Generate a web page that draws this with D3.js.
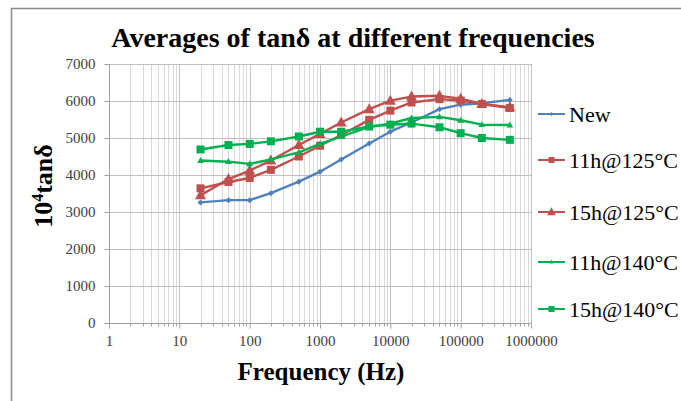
<!DOCTYPE html>
<html><head><meta charset="utf-8">
<script src="https://cdn.jsdelivr.net/npm/d3@7"></script>
<style>body{margin:0;background:#fff}svg{display:block}svg text{font-family:"Liberation Serif","Times New Roman",Times,serif !important}</style>
</head><body><svg id="c" width="681" height="401"></svg>
<script>
const frequencies = [20, 50, 100, 200, 500, 1000, 2000, 5000, 10000, 20000, 50000, 100000, 200000, 500000];
const seriesNames = ["New", "11h@125°C", "15h@125°C", "11h@140°C", "15h@140°C"];
const newVals   = [3260, 3320, 3320, 3510, 3820, 4090, 4420, 4850, 5170, 5420, 5780, 5900, 5940, 6030];
const h11c125   = [3640, 3810, 3920, 4140, 4500, 4790, 5080, 5490, 5740, 5960, 6050, 6010, 5920, 5810];
const h15c125   = [3450, 3890, 4120, 4390, 4810, 5110, 5420, 5780, 6010, 6120, 6140, 6060, 5920, 5830];
const h11c140   = [4390, 4360, 4300, 4420, 4610, 4840, 5040, 5300, 5390, 5540, 5570, 5480, 5360, 5350];
const h15c140   = [4690, 4810, 4840, 4910, 5040, 5170, 5170, 5310, 5360, 5390, 5290, 5130, 5000, 4950];
const yTicks = [0, 1000, 2000, 3000, 4000, 5000, 6000, 7000];
const xTickLabels = ["1", "10", "100", "1000", "10000", "100000", "1000000"];

const FONT = '"Liberation Serif","Times New Roman",Times,serif';
const svg = d3.select("#c");
const x = d3.scaleLog().domain([1, 1e6]).range([109, 531]);
const y = d3.scaleLinear().domain([0, 7000]).range([323, 64]);

// frame
svg.append("path").attr("d","M11.5,401 V8.5 H681").attr("fill","none").attr("stroke","#8c8c8c").attr("stroke-width",1.5);

// minor vertical grid
const minors = [];
for (let d = 1; d < 1e6; d *= 10) for (let m = 2; m <= 9; m++) minors.push(d * m);
svg.append("g").selectAll("line").data(minors).join("line")
  .attr("x1", d => Math.round(x(d)) + 0.5).attr("x2", d => Math.round(x(d)) + 0.5)
  .attr("y1", 64).attr("y2", 323).attr("stroke", "#d9d9d9").attr("stroke-width", 1);
// major vertical grid
const majors = xTickLabels.map(Number);
svg.append("g").selectAll("line").data(majors.slice(1)).join("line")
  .attr("x1", d => Math.round(x(d)) + 0.5).attr("x2", d => Math.round(x(d)) + 0.5)
  .attr("y1", 64).attr("y2", 323).attr("stroke", "#c0c0c0").attr("stroke-width", 1);
// horizontal grid
svg.append("g").selectAll("line").data(yTicks.slice(1)).join("line")
  .attr("x1", 109).attr("x2", 531)
  .attr("y1", d => Math.round(y(d)) + 0.5).attr("y2", d => Math.round(y(d)) + 0.5)
  .attr("stroke", "#c0c0c0").attr("stroke-width", 1);

// axes
const yAxis = d3.axisLeft(y).tickValues(yTicks).tickSize(5).tickPadding(9).tickFormat(d3.format("d"));
const gy = svg.append("g").attr("transform", "translate(109.5,0)").call(yAxis).attr("font-family", FONT);
gy.selectAll("text").attr("font-size", 15).attr("fill", "#404040");
gy.selectAll("line,path").attr("stroke", "#a0a0a0");
gy.select(".domain").attr("d", "M0,64V323.5");

const xAxis = d3.axisBottom(x).tickValues(majors).tickSize(5).tickPadding(7).tickFormat((d, i) => xTickLabels[i]);
const gx = svg.append("g").attr("transform", "translate(0,323.5)").call(xAxis).attr("font-family", FONT);
gx.selectAll("text").attr("font-size", 15).attr("fill", "#404040");
gx.selectAll("line,path").attr("stroke", "#a0a0a0");
gx.select(".domain").attr("d", "M109,0H531");
gx.append("g").selectAll("line").data(minors).join("line")
  .attr("x1", d => Math.round(x(d)) + 0.5).attr("x2", d => Math.round(x(d)) + 0.5)
  .attr("y1", 0).attr("y2", 3).attr("stroke", "#a0a0a0");

// series
const colors = ["#4f81bd", "#c0504d", "#c0504d", "#00b050", "#00b050"];
const shapes = ["diamond", "square", "triangle", "triangle", "square"];
const sizes = [6, 8, 10, 6, 8];
const allVals = [newVals, h11c125, h15c125, h11c140, h15c140];
const line = d3.line().x(d => x(d[0])).y(d => y(d[1]));
function marker(g, shape, s, color) {
  if (shape === "diamond") g.append("path").attr("d", `M0,${-s/2}L${s/2},0L0,${s/2}L${-s/2},0Z`).attr("fill", color);
  else if (shape === "square") g.append("rect").attr("x", -s/2).attr("y", -s/2).attr("width", s).attr("height", s).attr("fill", color);
  else g.append("path").attr("d", `M0,${-s*0.6}L${s*0.55},${s*0.4}L${-s*0.55},${s*0.4}Z`).attr("fill", color);
}
allVals.forEach((vals, si) => {
  const pts = frequencies.map((f, i) => [f, vals[i]]);
  svg.append("path").datum(pts).attr("d", line).attr("fill", "none")
    .attr("stroke", colors[si]).attr("stroke-width", 2.4).attr("stroke-linejoin", "round");
  pts.forEach(p => {
    const g = svg.append("g").attr("transform", `translate(${x(p[0])},${y(p[1])})`);
    marker(g, shapes[si], sizes[si], colors[si]);
  });
});

// legend
const legY = [114, 160, 212, 262, 309];
const legSizes = [4, 6, 8, 4, 6];
seriesNames.forEach((n, i) => {
  const g = svg.append("g").attr("transform", `translate(538,${legY[i]})`);
  g.append("line").attr("x1", 0).attr("x2", 27).attr("stroke", colors[i]).attr("stroke-width", 2);
  const m = g.append("g").attr("transform", "translate(13.5,0)");
  marker(m, shapes[i], legSizes[i], colors[i]);
  g.append("text").attr("x", 31).attr("y", 0).attr("dy", "0.35em").attr("font-family", FONT)
    .attr("font-size", 22).attr("fill", "#000").text(n);
});

// title & axis labels
svg.append("text").attr("x", 353).attr("y", 47).attr("text-anchor", "middle").attr("font-family", FONT)
  .attr("font-size", 28).attr("font-weight", "bold").text("Averages of tanδ at different frequencies");
svg.append("text").attr("x", 321).attr("y", 380).attr("text-anchor", "middle").attr("font-family", FONT)
  .attr("font-size", 25).attr("font-weight", "bold").text("Frequency (Hz)");
const yl = svg.append("text").attr("transform", "translate(52,186) rotate(-90)").attr("text-anchor", "middle")
  .attr("font-family", FONT).attr("font-size", 26).attr("font-weight", "bold");
yl.append("tspan").text("10");
yl.append("tspan").attr("dy", -9).attr("font-size", 16).text("4");
yl.append("tspan").attr("dy", 9).text("tanδ");
</script></body></html>
